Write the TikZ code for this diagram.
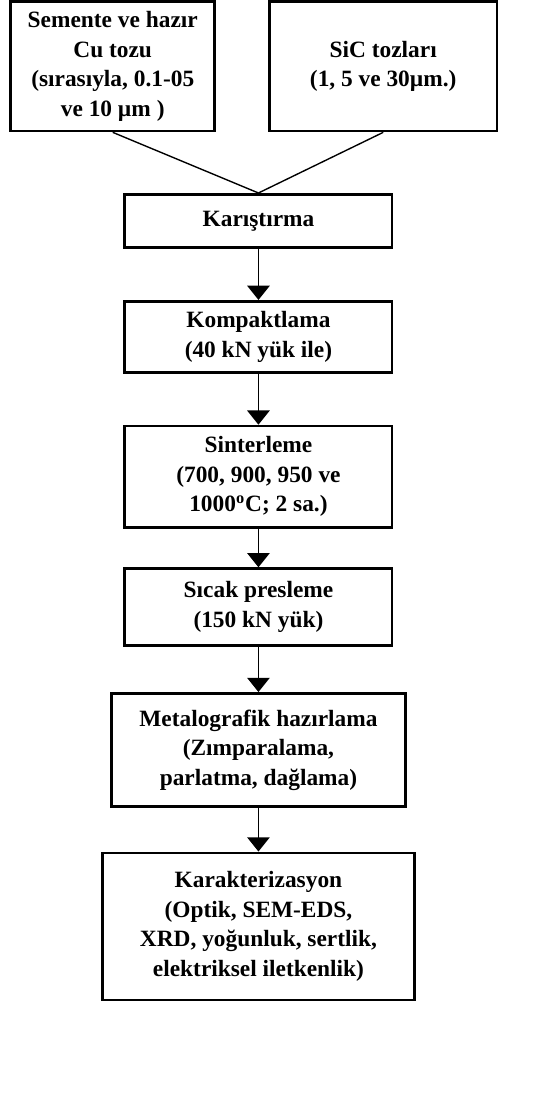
\documentclass[tikz,border=0pt]{standalone}
\usepackage{fontspec}
\setmainfont{Liberation Serif}
\usetikzlibrary{arrows.meta}

\begin{document}
\begin{tikzpicture}[x=0.45pt, y=-0.45pt,
    kutu/.style={draw, line width=1.3pt, align=center, inner sep=0pt,
        font=\bfseries\fontsize{11.8}{14.9}\selectfont},
    ok/.style={line width=0.9pt, -{Triangle[width=11.3pt, length=7.2pt]}}]
    \useasboundingbox (0,0) rectangle (608,1241);

    \node[kutu, minimum width=103pt, minimum height=65.3pt] (cu) at (126.5,74.5)
        {Semente ve hazır\\Cu tozu\\(sırasıyla, 0.1-05\\ve 10 µm )};
    \node[kutu, minimum width=115pt, minimum height=65.3pt] (sic) at (430,74.5)
        {SiC tozları\\(1, 5 ve 30µm.)};

    \node[kutu, minimum width=135pt, minimum height=27pt] (karis) at (290,248)
        {Karıştırma};
    \node[kutu, minimum width=135pt, minimum height=36pt] (kompakt) at (290,378)
        {Kompaktlama\\(40 kN yük ile)};
    \node[kutu, minimum width=135pt, minimum height=51.3pt] (sinter) at (290,535)
        {Sinterleme\\(700, 900, 950 ve\\1000\textsuperscript{o}C; 2 sa.)};
    \node[kutu, minimum width=135pt, minimum height=38.7pt] (pres) at (290,681)
        {Sıcak presleme\\(150 kN yük)};
    \node[kutu, minimum width=148.5pt, minimum height=57.2pt] (metal) at (290,841.5)
        {Metalografik hazırlama\\(Zımparalama,\\parlatma, dağlama)};
    \node[kutu, minimum width=157.5pt, minimum height=74.3pt] (karak) at (290,1039.5)
        {Karakterizasyon\\(Optik, SEM-EDS,\\XRD, yoğunluk, sertlik,\\elektriksel iletkenlik)};

    \draw[line width=0.7pt] (cu.south) -- (karis.north);
    \draw[line width=0.7pt] (sic.south) -- (karis.north);

    \draw[ok] (karis) -- (kompakt);
    \draw[ok] (kompakt) -- (sinter);
    \draw[ok] (sinter) -- (pres);
    \draw[ok] (pres) -- (metal);
    \draw[ok] (metal) -- (karak);
\end{tikzpicture}
\end{document}
